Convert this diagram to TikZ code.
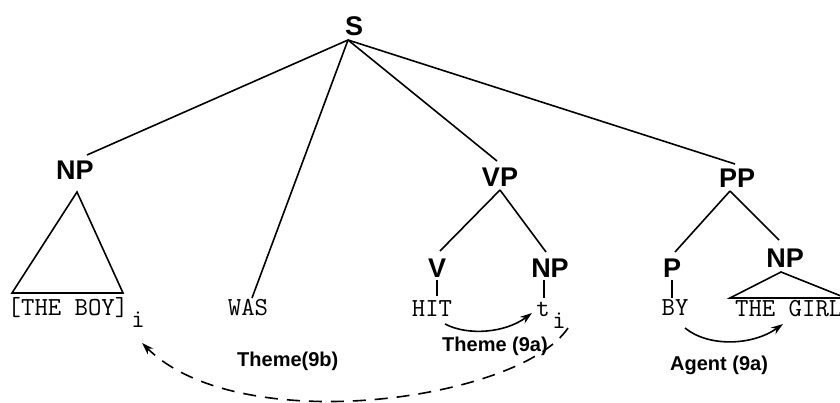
\documentclass[tikz,border=0pt]{standalone}
\usepackage{fontspec}
\setmainfont{Liberation Sans}
\usetikzlibrary{arrows.meta}

\begin{document}
\begin{tikzpicture}[x=1pt,y=-1pt,
  lab/.style={font=\fontsize{27}{30}\selectfont\bfseries, anchor=base, inner sep=0pt},
  word/.style={font=\fontsize{26}{28}\selectfont\ttfamily\addfontfeature{LetterSpace=12}, anchor=base, inner sep=0pt},
  role/.style={font=\fontsize{20}{24}\selectfont\bfseries, anchor=base west, inner sep=0pt},
  edge/.style={line width=1.6pt},
  arr/.style={line width=1.6pt, -{Stealth[length=12pt,width=8pt]}},
]
\useasboundingbox (0,0) rectangle (840,403);
\clip (0,0) rectangle (840,403);

% category labels
\node[lab] (S)   at (354,36)  {S};
\node[lab] (NPa) at (75,180)  {NP};
\node[lab] (VP)  at (500,187) {VP};
\node[lab] (PP)  at (737,188) {PP};
\node[lab] (V)   at (437,277) {V};
\node[lab] (NPb) at (550,277) {NP};
\node[lab] (P)   at (672,277) {P};
\node[lab] (NPc) at (785,267) {NP};

% terminal strings
\node[word] (boy) at (68,315)  {[THE BOY]};
\node[word] (ia)  at (138,327) {i};
\node[word] (was) at (248,315) {WAS};
\node[word] (hit) at (432,316) {HIT};
\node[word] (t)   at (543,316) {t};
\node[word] (ib)  at (559,328) {i};
\node[word] (by)  at (675,315) {BY};
\node[word, anchor=base west] (girl) at (735,316) {THE GIRL};

% theta-role labels
\node[role] (th9b) at (237,366) {Theme(9b)};
\node[role] (th9a) at (442,351) {Theme (9a)};
\node[role] (ag9a) at (670,370) {Agent (9a)};

% attachment points of the branches
\coordinate (Sfoot)  at (348,40);
\coordinate (NPatop) at (87,155);
\coordinate (wastop) at (252,298);
\coordinate (VPtop)  at (497,161);
\coordinate (PPtop)  at (735,164);
\coordinate (VPfoot) at (500,190);
\coordinate (Vtop)   at (440,251);
\coordinate (NPbtop) at (546,252);
\coordinate (PPfoot) at (730,191);
\coordinate (Ptop)   at (675,252);
\coordinate (NPctop) at (779,240);
\coordinate (Vfoot)  at (437,280);
\coordinate (hittop) at (437,296);
\coordinate (NPbfoot) at (544,280);
\coordinate (ttop)   at (544,298);
\coordinate (Pfoot)  at (672,280);
\coordinate (bytop)  at (672,298);
\coordinate (NPafoot) at (77,192);
\coordinate (NPaL)   at (12,293);
\coordinate (NPaR)   at (123,293);
\coordinate (NPcfoot) at (781,272);
\coordinate (NPcL)   at (730,298);
\coordinate (NPcR)   at (846,298);

% tree branches
\draw[edge] (Sfoot) -- (NPatop);
\draw[edge] (Sfoot) -- (wastop);
\draw[edge] (Sfoot) -- (VPtop);
\draw[edge] (Sfoot) -- (PPtop);
\draw[edge] (VPfoot) -- (Vtop);
\draw[edge] (VPfoot) -- (NPbtop);
\draw[edge] (PPfoot) -- (Ptop);
\draw[edge] (PPfoot) -- (NPctop);
\draw[edge] (Vfoot) -- (hittop);
\draw[edge] (NPbfoot) -- (ttop);
\draw[edge] (Pfoot) -- (bytop);

% unanalysed NPs
\draw[edge, line join=miter] (NPafoot) -- (NPaL) -- (NPaR) -- cycle;
\draw[edge, line join=miter] (NPcfoot) -- (NPcL) -- (NPcR) -- cycle;

% role assignment arrows
\draw[arr] (445,324) .. controls (468,336) and (505,333) .. (532,313);
\draw[arr] (685,328) .. controls (708,347) and (752,346) .. (783,324);
\draw[arr, dash pattern=on 13pt off 9pt] (568,328) .. controls (520,400) and (240,440) .. (142,343);
\end{tikzpicture}
\end{document}
